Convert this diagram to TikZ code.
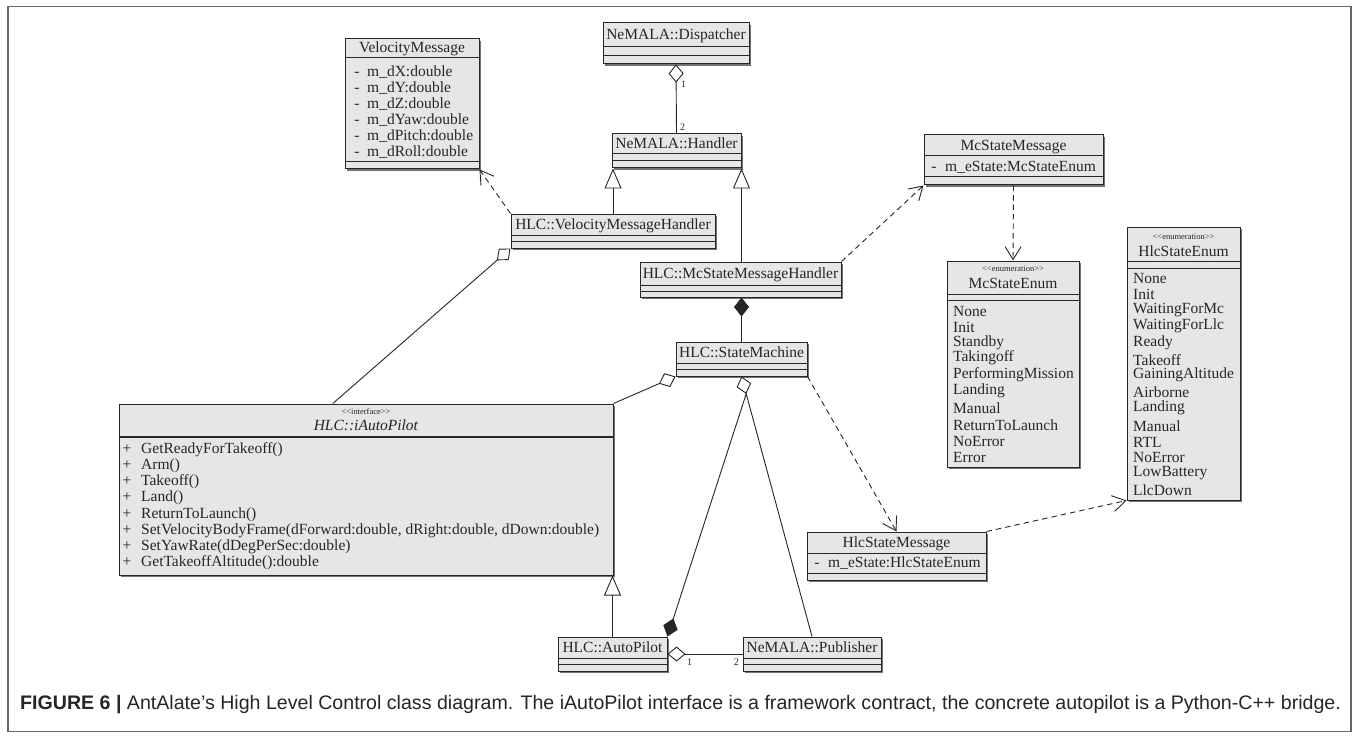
\documentclass[tikz,border=0pt]{standalone}
\usepackage{fontspec}
\setmainfont{Liberation Serif}
\newfontfamily\capfont{Liberation Sans}
\usetikzlibrary{arrows.meta,fit,shadows,calc}
\definecolor{boxfill}{HTML}{E6E6E6}
\definecolor{framecol}{HTML}{666666}
\definecolor{ink}{HTML}{262626}
\newcommand\umlcls[5]{\node[cls, fit={(#2,#3) (#4,#5)}] (#1) {};}
\newcommand\hsep[3]{\draw[sepl] (#1,#3) -- (#2,#3);}
\begin{document}
\begin{tikzpicture}[x=1pt,y=-1pt,
 cls/.style={draw=ink, fill=boxfill, line width=1pt, inner sep=0pt,
   drop shadow={shadow xshift=1.6pt, shadow yshift=-1.6pt, fill=black!55, opacity=1}},
 sepl/.style={draw=ink, line width=1pt},
 t/.style={inner sep=0pt, font=\fontsize{15.5}{16}\selectfont, text height=11pt, text depth=2pt, text=ink},
 st/.style={inner sep=0pt, font=\fontsize{8.5}{9}\selectfont, text=ink},
 num/.style={inner sep=0pt, font=\fontsize{10}{10}\selectfont, text=ink},
 conn/.style={line width=0.9pt, draw=ink},
 dep/.style={conn, dash pattern=on 5.5pt off 4pt, -{Straight Barb[length=13pt,width=16pt]}},
 gen/.style={conn, -{Triangle[open,length=20pt,width=17pt]}},
 agg/.style={conn, {Diamond[open,fill=white,length=18pt,width=15pt]}-},
 comp/.style={conn, {Diamond[length=19pt,width=15pt]}-},
 compend/.style={conn, -{Diamond[length=19pt,width=15pt]}},
]
\fill[white] (0,0) rectangle (1356,738);
\useasboundingbox (0,0) rectangle (1356,738);
\draw[framecol, line width=1.5pt] (8,6.5) rectangle (1351,731.5);

% ---------- classes ----------
% VelocityMessage
\umlcls{vm}{345}{39}{479}{169}
\node[t] (vmname) at (412,48.5) {VelocityMessage};
\hsep{345}{479}{58}
\foreach \y/\txt in {72/m\_dX:double, 88/m\_dY:double, 104/m\_dZ:double, 120/m\_dYaw:double, 136/m\_dPitch:double, 152/m\_dRoll:double}{
  \node[t] at (357,\y) {-};
  \node[t, anchor=west] at (367,\y) {\txt};
}
\hsep{345}{479}{162}

% Dispatcher
\umlcls{disp}{603}{23}{749}{64}
\node[t] (dispname) at (676,35) {NeMALA::Dispatcher};
\hsep{603}{749}{47}
\hsep{603}{749}{56}

% Handler
\umlcls{handler}{612}{134}{741}{168}
\node[t] (handlername) at (676.5,144.5) {NeMALA::Handler};
\hsep{612}{741}{154}
\hsep{612}{741}{161}

% VelocityMessageHandler
\umlcls{vmh}{511}{214}{715}{248}
\node[t] (vmhname) at (613,225) {HLC::VelocityMessageHandler};
\hsep{511}{715}{235}
\hsep{511}{715}{241}

% McStateMessage
\umlcls{mcm}{924}{135}{1103}{185}
\node[t] (mcmname) at (1013.5,146) {McStateMessage};
\hsep{924}{1103}{156}
\node[t] at (934,167) {-};
\node[t, anchor=west] at (945,167) {m\_eState:McStateEnum};
\hsep{924}{1103}{177}

% McStateMessageHandler
\umlcls{mcmh}{640}{262}{841}{297}
\node[t] (mcmhname) at (740.5,274) {HLC::McStateMessageHandler};
\hsep{640}{841}{285}
\hsep{640}{841}{291}

% StateMachine
\umlcls{sm}{676}{342}{807}{376}
\node[t] (smname) at (741.5,353) {HLC::StateMachine};
\hsep{676}{807}{363}
\hsep{676}{807}{369}

% McStateEnum
\umlcls{mce}{947}{261}{1079}{467}
\node[st] at (1013,269) {{<}{<}enumeration{>}{>}};
\node[t] (mcename) at (1013,284) {McStateEnum};
\hsep{947}{1079}{294}
\hsep{947}{1079}{300}
\foreach \y/\txt in {312/None, 328/Init, 342/Standby, 357/Takingoff, 374/PerformingMission, 390/Landing, 409/Manual, 426/ReturnToLaunch, 442/NoError, 458/Error}{
  \node[t, anchor=west] at (953,\y) {\txt};
}

% HlcStateEnum
\umlcls{hce}{1127}{227}{1240}{500}
\node[st] at (1183.5,237) {{<}{<}enumeration{>}{>}};
\node[t] (hcename) at (1183.5,252) {HlcStateEnum};
\hsep{1127}{1240}{261}
\hsep{1127}{1240}{268}
\foreach \y/\txt in {279/None, 295/Init, 309/WaitingForMc, 325/WaitingForLlc, 342/Ready, 361/Takeoff, 374/GainingAltitude, 393/Airborne, 407/Landing, 427/Manual, 443/RTL, 458/NoError, 472/LowBattery, 491/LlcDown}{
  \node[t, anchor=west] at (1133,\y) {\txt};
}

% HlcStateMessage
\umlcls{hcm}{807}{532}{986}{580}
\node[t] (hcmname) at (896.5,543) {HlcStateMessage};
\hsep{807}{986}{553}
\node[t] at (817,563) {-};
\node[t, anchor=west] at (828,563) {m\_eState:HlcStateEnum};
\hsep{807}{986}{573}

% iAutoPilot
\umlcls{iap}{119}{404}{613}{575}
\node[st] at (366,411.5) {{<}{<}interface{>}{>}};
\node[t] (iapname) at (366,426) {\textit{HLC::iAutoPilot}};
\draw[sepl, line width=1.8pt] (119,437) -- (613,437);
\foreach \y/\txt in {449/GetReadyForTakeoff(), 465/Arm(), 481/Takeoff(), 497/Land(), 514/ReturnToLaunch(), 530/{SetVelocityBodyFrame(dForward:double, dRight:double, dDown:double)}, 546/SetYawRate(dDegPerSec:double), 562/GetTakeoffAltitude():double}{
  \node[t] at (127,\y) {+};
  \node[t, anchor=west] at (141,\y) {\txt};
}

% AutoPilot
\umlcls{ap}{558}{637}{667}{671}
\node[t] (apname) at (612.5,648) {HLC::AutoPilot};
\hsep{558}{667}{658}
\hsep{558}{667}{664}

% Publisher
\umlcls{pub}{743}{637}{881}{671}
\node[t] (pubname) at (812,648) {NeMALA::Publisher};
\hsep{743}{881}{658}
\hsep{743}{881}{664}

% ---------- connectors ----------
\draw[agg] (disp.south) -- (handler.north);
\node[num, anchor=west] (m1) at (681,84) {1};
\node[num, anchor=west] (m2) at (680,127) {2};

\draw[gen] (vmh.north) -- (vmh.north |- handler.south);
\draw[gen] (handler.south east |- mcmh.north) -- (handler.south east);
\draw[dep] (vmh.north west) -- (vm.south east);
\draw[dep] (mcmh.north east) -- (mcm.south west);
\draw[dep] (mcm.south) -- (mce.north);
\draw[comp] (mcmh.south -| sm.north) -- (sm.north);
\draw[agg] (sm.south west) -- (iap.north east);
\coordinate (iaptop) at ($(iap.north west)!0.433!(iap.north east)$);
\draw[agg] (vmh.south west) -- (iaptop);
\draw[agg] (sm.south) -- (pub.north);
\coordinate (smtip) at ($(sm.south)!18pt!(pub.north)$);
\draw[compend] (smtip) -- (ap.north east);
\draw[gen] (ap.north) -- (ap.north |- iap.south);
\draw[agg] (ap.east) -- (pub.west);
\node[num, anchor=west] (n1) at (687,662) {1};
\node[num, anchor=east] (n2) at (739,662) {2};
\draw[dep] (sm.south east) -- (hcm.north);
\draw[dep] (hcm.north east) -- (hce.south west);

% ---------- caption ----------
\node[anchor=west, inner sep=0pt, font=\capfont\fontsize{19.6}{20}\selectfont, text=ink] (cap) at (20,705)
 {\textbf{FIGURE 6} \textbf{|} AntAlate’s High Level Control class diagram. The iAutoPilot interface is a framework contract, the concrete autopilot is a Python-C++ bridge.};
\end{tikzpicture}
\end{document}
